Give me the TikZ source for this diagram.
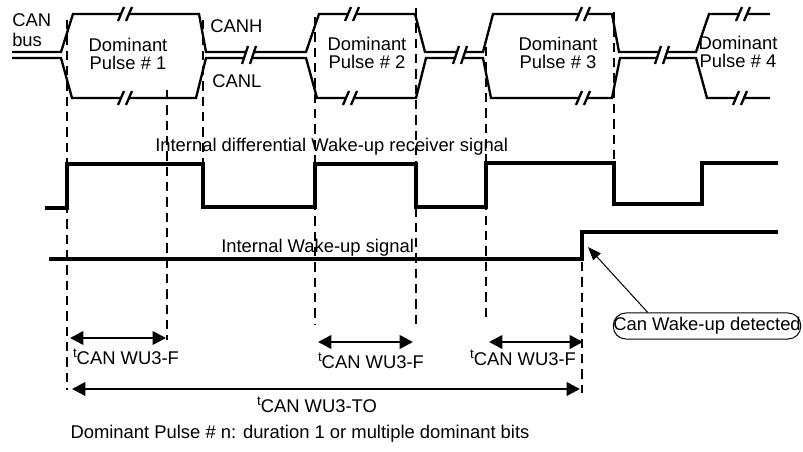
\documentclass[tikz,border=0pt]{standalone}
\usepackage{fontspec}
\setmainfont{Liberation Sans}
\usetikzlibrary{arrows.meta,calc,positioning}
\newcommand{\tlab}[1]{\raisebox{5.2pt}{\fontsize{10}{12}\selectfont t}#1}

\begin{document}
\begin{tikzpicture}[x=0.75pt,y=-0.75pt,font=\fontsize{13.8}{15}\selectfont,
  >={Triangle[length=10pt,width=10pt]},
  bus/.style={line width=1.75pt},
  sig/.style={line width=3pt},
  guide/.style={line width=1.75pt,dash pattern=on 7pt off 4.5pt},
  dim/.style={line width=2pt,<->},
  lbl/.style={inner sep=0pt},
  pulse/.style={inner sep=0pt,align=center,font=\fontsize{13.8}{13.5}\selectfont}]
  \useasboundingbox (0,0) rectangle (803,452);
  % bus lines (CANH above, CANL below)
  \draw[bus] (12,52) -- (61,52) -- (73,14) -- (121,14)
    (129,14) -- (199,14) -- (206,52) -- (245,52)
    (253,52) -- (306,52) -- (319,14) -- (348,14)
    (356,14) -- (415,14) -- (425,52) -- (456,52)
    (464,52) -- (483,52) -- (493,14) -- (579,14)
    (587,14) -- (612,14) -- (619,52) -- (658,52)
    (666,52) -- (696,52) -- (709,14) -- (739,14)
    (747,14) -- (770,14);
  \draw[bus] (12,58) -- (61,58) -- (72,98) -- (121,98)
    (129,98) -- (196,98) -- (206,58) -- (245,58)
    (253,58) -- (306,58) -- (317,98) -- (346,98)
    (354,98) -- (416,98) -- (426,58) -- (456,58)
    (464,58) -- (483,58) -- (491,98) -- (579,98)
    (587,98) -- (612,98) -- (620,58) -- (658,58)
    (666,58) -- (696,58) -- (707,98) -- (736,98)
    (744,98) -- (770,98);
  % break marks
  \foreach \bx/\by in {125/14,125/98,352/14,350/98,583/14,583/98,743/14,740/98}
    \draw[bus] ({\bx-7},{\by+7}) -- ({\bx-1},{\by-7}) ({\bx+1},{\by+7}) -- ({\bx+7},{\by-7});
  \foreach \bx in {249,460,662}
    \draw[bus] ({\bx-7},64) -- ({\bx-1},46) ({\bx+1},64) -- ({\bx+7},46);
  \node[lbl,anchor=west,align=left] (bus) at (12,30) {CAN\\bus};
  \node[lbl,anchor=base west] (canh) at (210,33) {CANH};
  \node[lbl,anchor=base west] (canl) at (212,88) {CANL};
  \node[pulse] (p1) at (128,54) {Dominant\\Pulse \# 1};
  \node[pulse] (p2) at (367,53) {Dominant\\Pulse \# 2};
  \node[pulse] (p3) at (558,53) {Dominant\\Pulse \# 3};
  \node[pulse] (p4) at (738,52) {Dominant\\Pulse \# 4};
  % receiver and wake-up signals
  \draw[sig] (45,208) -- (67,208) -- (67,164) -- (203,164) -- (203,207) -- (315,207)
    -- (315,164) -- (416,164) -- (416,207) -- (486,207) -- (486,163) -- (614,163)
    -- (614,204) -- (702,204) -- (702,163) -- (778,163);
  \draw[sig] (49,259) -- (582,259) -- (582,232) -- (778,232);
  \node[lbl,anchor=base west] (rx) at (155,152) {Internal differential Wake-up receiver signal};
  \node[lbl,anchor=base west] (wu) at (221,253) {Internal Wake-up signal};
  % guide lines
  \foreach \gx/\ga/\gb in {67/20/390,167/90/340,203/20/164,315/17/325,416/8/327,
      486/47/323,582/262/393,614/12/163}
    \draw[guide] (\gx,\ga) -- (\gx,\gb);
  % timing arrows
  \coordinate (f1a) at (70,338);  \coordinate (f1b) at (166,338);
  \coordinate (f2a) at (318,342); \coordinate (f2b) at (413,342);
  \coordinate (f3a) at (489,342); \coordinate (f3b) at (583,342);
  \coordinate (toa) at (72,389);  \coordinate (tob) at (580,389);
  \draw[dim] (f1a) -- (f1b);
  \draw[dim] (f2a) -- (f2b);
  \draw[dim] (f3a) -- (f3b);
  \draw[dim] (toa) -- (tob);
  \node[lbl,anchor=base] (f1) at (126,364) {\tlab{CAN WU3-F}};
  \node[lbl,anchor=base] (f2) at (371,368) {\tlab{CAN WU3-F}};
  \node[lbl,anchor=base] (f3) at (523,365) {\tlab{CAN WU3-F}};
  \node[lbl,anchor=base] (to) at (317,412) {\tlab{CAN WU3-TO}};
  % wake-up detection callout
  \coordinate (wuedge) at (588,247);
  \node[draw,line width=0.75pt,rounded corners=9.5pt,inner xsep=0pt,minimum height=19.5pt]
    (det) at (707,326) {Can Wake-up detected};
  \draw[line width=0.75pt,-{Triangle[length=10pt,width=7.5pt]}]
    ($(det.north west)+(35,0)$) -- (wuedge);
  \node[lbl,anchor=base] (note) at (300,438)
    {Dominant Pulse \# n: duration 1 or multiple dominant bits};
\end{tikzpicture}
\end{document}
